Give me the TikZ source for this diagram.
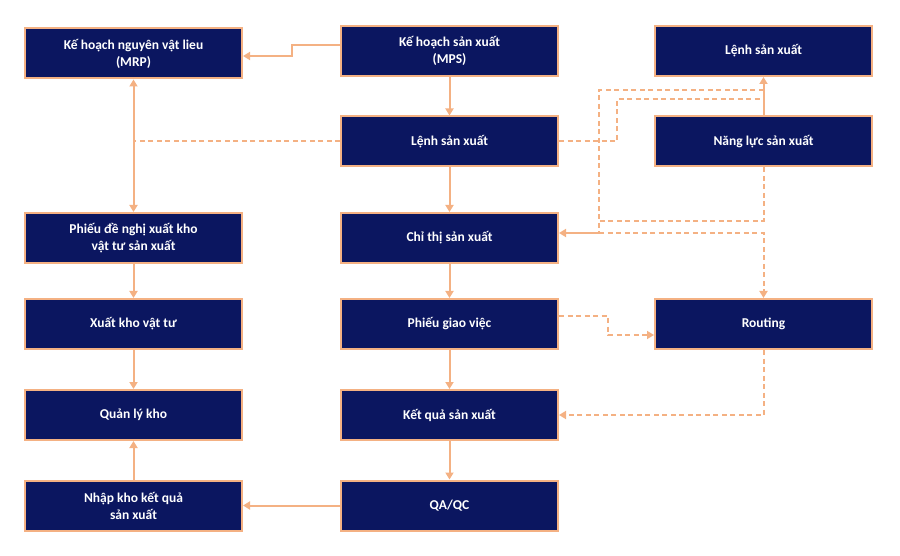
\documentclass[tikz,border=0pt]{standalone}
\usepackage{fontspec}
\setmainfont{Carlito}
\usetikzlibrary{arrows.meta, positioning, calc}

\definecolor{navy}{HTML}{0B1660}
\definecolor{peach}{HTML}{F4B183}

\begin{document}
\begin{tikzpicture}[
  x=1pt, y=1pt,
  font=\fontsize{13.5}{17}\selectfont\bfseries,
  node distance=38.5pt and 97pt,
  >={Triangle[length=7pt, width=8pt]},
  box/.style={draw=peach, fill=navy, line width=2pt, text=white,
              minimum width=217pt, minimum height=50pt, align=center, inner sep=2pt},
  flow/.style={->, draw=peach, line width=2pt},
  dlink/.style={draw=peach, line width=2pt, dash pattern=on 5pt off 3.5pt},
  dflow/.style={dlink, ->},
]
\useasboundingbox (0,0) rectangle (900,-556);

% ---------- Middle column ----------
\node[box] (mps) at (449.5,-51) {Kế hoạch sản xuất\\(MPS)};
\node[box, below=of mps]           (lenh)    {Lệnh sản xuất};
\node[box, below=44.5pt of lenh]   (chithi)  {Chỉ thị sản xuất};
\node[box, below=34pt of chithi]   (giaoviec){Phiếu giao việc};
\node[box, below=39pt of giaoviec] (ketqua)  {Kết quả sản xuất};
\node[box, below=of ketqua]        (qaqc)    {QA/QC};

% ---------- Left column ----------
\node[box, left=of mps, yshift=-2.5pt] (mrp) {Kế hoạch nguyên vật lieu\\(MRP)};
\node[box, left=of chithi]   (denghi) {Phiếu đề nghị xuất kho\\vật tư sản xuất};
\node[box, left=of giaoviec] (xuatkho){Xuất kho vật tư};
\node[box, left=of ketqua]   (qlkho)  {Quản lý kho};
\node[box, left=of qaqc]     (nhapkho){Nhập kho kết quả\\sản xuất};

% ---------- Right column ----------
\node[box, right=95pt of mps]      (lenhr)   {Lệnh sản xuất};
\node[box, right=95pt of lenh]     (nangluc) {Năng lực sản xuất};
\node[box, right=95pt of giaoviec] (routing) {Routing};

% ---------- Main flow ----------
\coordinate (jmrp) at ($(mrp.east)!0.5!(mps.west)$);
\draw[flow] ([yshift=6pt]mps.west) -| (jmrp) |- ([yshift=-2.5pt]mrp.east);
\draw[flow] (mps) -- (lenh);
\draw[flow] (lenh) -- (chithi);
\draw[flow] (chithi) -- (giaoviec);
\draw[flow] (giaoviec) -- (ketqua);
\draw[flow] (ketqua) -- (qaqc);
\draw[flow] (qaqc) -- (nhapkho);

% warehouse side
\draw[flow, <->] (denghi) -- (mrp);
\draw[dlink] (lenh.west) -- (lenh.west -| mrp.south);
\draw[flow] (denghi) -- (xuatkho);
\draw[flow] (xuatkho) -- (qlkho);
\draw[flow] (nhapkho) -- (qlkho);

% ---------- Capacity / routing links ----------
\coordinate (ra) at ([yshift=-22pt]lenhr.south);
\coordinate (rb) at ([yshift=-13pt]lenhr.south);
\coordinate (cj) at ([xshift=40pt, yshift=5pt]chithi.east);
\coordinate (nj) at ([xshift=40pt, yshift=17pt]chithi.east);

\draw[flow] (nangluc) -- (lenhr);
\draw[dlink] (lenh.east) -- ([xshift=58pt]lenh.east) |- (ra);
\draw[dlink] (rb) -| (cj);
\draw[dlink] (nangluc.south) |- (nj);
\draw[flow] (cj) -- (cj -| chithi.east);
\draw[dflow] (cj) -| (routing.north);

\draw[dflow] ([yshift=8pt]giaoviec.east) -- ([xshift=49pt, yshift=8pt]giaoviec.east)
      |- ([yshift=-11pt]routing.west);
\draw[dflow] (routing.south) |- (ketqua.east);

\end{tikzpicture}
\end{document}
